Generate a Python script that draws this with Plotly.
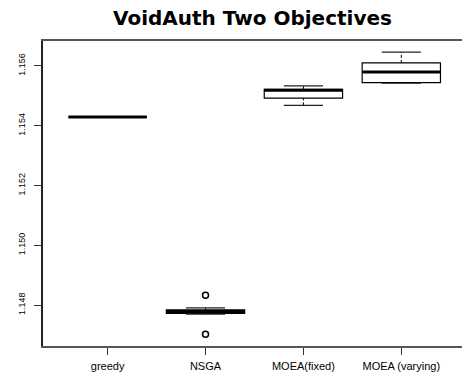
import plotly.graph_objects as go

# Box-plot summaries for each method
methods = ["greedy", "NSGA", "MOEA(fixed)", "MOEA (varying)"]
lower_whisker = [1.15429, 1.14770, 1.15468, 1.15542]
q1 = [1.15429, 1.147722, 1.15492, 1.15544]
median = [1.15429, 1.147789, 1.15519, 1.15580]
q3 = [1.15429, 1.147844, 1.15522, 1.15610]
upper_whisker = [1.15429, 1.14791, 1.155333, 1.15646]

# Points beyond the whiskers
outlier_method = ["NSGA", "NSGA"]
outlier_value = [1.148333, 1.147022]

y_ticks = [1.148, 1.150, 1.152, 1.154, 1.156]

pos = {m: i + 1 for i, m in enumerate(methods)}
box_w = 0.8
staple_w = box_w / 2

fig = go.Figure()

# Boxes only (whiskers are drawn separately, dashed, R-style)
fig.add_trace(go.Box(
    x=[pos[m] for m in methods],
    q1=q1, median=median, q3=q3,
    lowerfence=q1, upperfence=q3,
    width=box_w,
    fillcolor="white",
    line=dict(color="black", width=1.2),
    boxpoints=False,
    hoverinfo="skip",
    showlegend=False,
))


def seg(x0, x1, y0, y1, **line):
    fig.add_trace(go.Scatter(
        x=[x0, x1], y=[y0, y1], mode="lines", line=line,
        hoverinfo="skip", showlegend=False,
    ))


for i, m in enumerate(methods):
    p = pos[m]
    # dashed whiskers
    if upper_whisker[i] > q3[i]:
        seg(p, p, q3[i], upper_whisker[i], color="black", width=1, dash="3px,2px")
    if lower_whisker[i] < q1[i]:
        seg(p, p, lower_whisker[i], q1[i], color="black", width=1, dash="3px,2px")
    # staples
    seg(p - staple_w / 2, p + staple_w / 2, upper_whisker[i], upper_whisker[i],
        color="#222", width=1.2)
    seg(p - staple_w / 2, p + staple_w / 2, lower_whisker[i], lower_whisker[i],
        color="#222", width=1.2)
    # heavy median bar
    seg(p - box_w / 2, p + box_w / 2, median[i], median[i], color="black", width=3)

fig.add_trace(go.Scatter(
    x=[pos[m] for m in outlier_method], y=outlier_value,
    mode="markers",
    marker=dict(symbol="circle-open", size=6, color="black",
                line=dict(width=1.5, color="black")),
    hoverinfo="skip", showlegend=False,
))

fig.update_layout(
    width=462, height=374,
    margin=dict(l=43, r=0, t=41, b=28),
    paper_bgcolor="white", plot_bgcolor="white",
    title=dict(
        text="<b>VoidAuth Two Objectives</b>",
        font=dict(family="DejaVu Sans", size=20, color="black"),
        x=0.5, xanchor="center", xref="paper",
        y=1 - 18 / 374, yanchor="middle", yref="container",
    ),
    font=dict(family="Liberation Sans, Arial", size=9, color="black"),
)

fig.update_xaxes(
    range=[0.34, 4.62],
    tickmode="array", tickvals=[pos[m] for m in methods], ticktext=methods,
    showgrid=False, zeroline=False,
    showline=True, linecolor="#555", linewidth=1.5, mirror=True,
    ticks="outside", ticklen=7, tickcolor="#333", tickwidth=1,
    ticklabelstandoff=2,
    tickfont=dict(size=11),
)
fig.update_yaxes(
    range=[1.146633, 1.156833],
    tickmode="array", tickvals=y_ticks, tickformat=".3f",
    tickangle=-90,
    showgrid=False, zeroline=False,
    showline=True, linecolor="#222", linewidth=1.5, mirror=False,
    ticks="outside", ticklen=7, tickcolor="#333", tickwidth=1,
    ticklabelstandoff=6,
    tickfont=dict(size=9),
)

fig.write_html("out.html")
